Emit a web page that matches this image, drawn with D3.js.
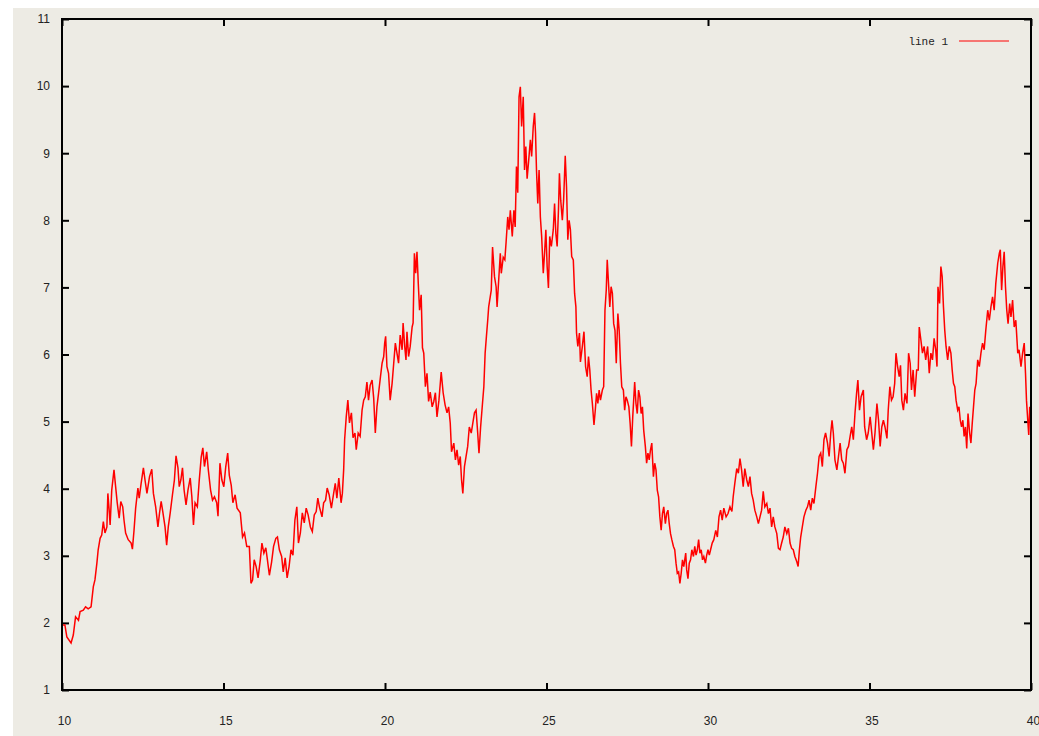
<!DOCTYPE html>
<html>
<head>
<meta charset="utf-8">
<script src="https://cdn.jsdelivr.net/npm/d3@7"></script>
<style>
  html, body { margin: 0; padding: 0; background: #ffffff; }
</style>
</head>
<body>
<script>
// Axis ticks (gnuplot style)
const X_TICKS = [10, 15, 20, 25, 30, 35, 40];
const Y_TICKS = [1, 2, 3, 4, 5, 6, 7, 8, 9, 10, 11];
const SERIES_NAME = "line 1";

// The random-walk trace: [x, y]
const walk10to15 = [[10.00,1.97],[10.09,1.97],[10.15,1.79],[10.28,1.70],[10.35,1.82],[10.42,2.09],[10.51,2.04],[10.56,2.17],[10.66,2.19],[10.73,2.24],[10.81,2.21],[10.90,2.24],[10.97,2.54],[11.02,2.64],[11.08,2.89],[11.12,3.09],[11.18,3.26],[11.23,3.31],[11.28,3.51],[11.33,3.34],[11.39,3.43],[11.42,3.93],[11.46,3.68],[11.49,3.46],[11.54,3.98],[11.61,4.28],[11.66,4.03],[11.71,3.79],[11.77,3.56],[11.82,3.81],[11.88,3.73],[11.92,3.53],[11.97,3.34],[12.05,3.24],[12.14,3.19],[12.18,3.10],[12.23,3.38],[12.28,3.71],[12.35,4.01],[12.39,3.86],[12.45,4.08],[12.52,4.31],[12.57,4.13],[12.63,3.93],[12.71,4.18],[12.78,4.29],[12.83,3.93],[12.90,3.73],[12.97,3.43],[13.02,3.64],[13.07,3.81],[13.12,3.66],[13.19,3.43],[13.24,3.16],[13.29,3.43],[13.35,3.64],[13.42,3.91],[13.48,4.13],[13.53,4.49],[13.59,4.31],[13.63,4.03],[13.68,4.13],[13.73,4.31],[13.78,3.98],[13.84,3.76],[13.90,3.98],[13.97,4.16],[14.02,3.88],[14.07,3.46],[14.12,3.79],[14.19,3.73],[14.25,4.13],[14.31,4.47],[14.36,4.61],[14.41,4.33],[14.48,4.55],[14.53,4.28],[14.60,3.98],[14.66,3.83],[14.72,3.88],[14.79,3.79],[14.83,3.59],[14.89,4.38],[14.95,4.13]];

const walk15to20 = [[15.01,4.03],[15.07,4.33],[15.13,4.53],[15.18,4.20],[15.24,4.05],[15.29,3.79],[15.36,3.91],[15.42,3.71],[15.52,3.64],[15.59,3.28],[15.65,3.34],[15.72,3.14],[15.80,3.14],[15.85,2.59],[15.90,2.64],[15.95,2.94],[16.01,2.84],[16.07,2.67],[16.14,2.94],[16.19,3.19],[16.25,3.04],[16.31,3.12],[16.36,2.94],[16.42,2.71],[16.49,2.91],[16.55,3.14],[16.62,3.26],[16.67,3.28],[16.73,3.09],[16.80,2.99],[16.85,2.76],[16.91,2.97],[16.97,2.67],[17.03,2.84],[17.09,3.09],[17.15,3.01],[17.21,3.53],[17.27,3.73],[17.32,3.19],[17.38,3.34],[17.44,3.64],[17.50,3.49],[17.56,3.71],[17.62,3.61],[17.69,3.43],[17.75,3.36],[17.81,3.61],[17.87,3.66],[17.92,3.86],[17.97,3.73],[18.05,3.58],[18.10,3.79],[18.16,3.83],[18.21,4.01],[18.27,3.91],[18.34,3.71],[18.41,3.93],[18.46,4.08],[18.51,3.86],[18.57,4.16],[18.64,3.79],[18.68,3.93],[18.72,4.28],[18.75,4.73],[18.80,5.07],[18.85,5.32],[18.90,4.98],[18.96,5.13],[19.01,4.76],[19.07,4.83],[19.11,4.58],[19.17,4.83],[19.23,4.78],[19.29,5.17],[19.34,5.32],[19.39,5.37],[19.44,5.59],[19.49,5.32],[19.54,5.54],[19.60,5.62],[19.65,5.35],[19.70,4.83],[19.75,5.22],[19.80,5.42],[19.86,5.67],[19.91,5.87],[19.96,5.97],[19.99,6.17]];

const walk20to25 = [[20.02,6.27],[20.06,5.82],[20.11,5.72],[20.16,5.32],[20.22,5.57],[20.27,5.87],[20.32,6.17],[20.37,6.02],[20.42,5.87],[20.47,6.29],[20.53,6.07],[20.56,6.47],[20.61,6.12],[20.65,5.92],[20.68,6.34],[20.73,5.97],[20.78,6.12],[20.84,6.41],[20.87,6.47],[20.91,7.51],[20.95,7.21],[20.99,7.53],[21.03,7.06],[21.07,6.66],[21.12,6.89],[21.16,6.10],[21.20,6.02],[21.25,5.52],[21.30,5.72],[21.35,5.30],[21.40,5.44],[21.46,5.22],[21.51,5.30],[21.56,5.43],[21.61,5.07],[21.67,5.32],[21.74,5.74],[21.80,5.43],[21.86,5.25],[21.92,5.13],[21.97,5.22],[22.02,4.98],[22.06,4.55],[22.13,4.68],[22.18,4.43],[22.23,4.58],[22.28,4.35],[22.33,4.48],[22.37,4.13],[22.41,3.93],[22.46,4.33],[22.51,4.48],[22.56,4.63],[22.61,4.92],[22.67,4.83],[22.72,4.98],[22.77,5.13],[22.82,5.17],[22.87,4.83],[22.91,4.53],[22.96,4.92],[23.02,5.28],[23.06,5.52],[23.10,6.02],[23.14,6.27],[23.18,6.51],[23.21,6.71],[23.29,6.96],[23.33,7.60],[23.39,7.16],[23.44,7.01],[23.47,6.71],[23.52,7.11],[23.57,7.51],[23.60,7.21],[23.66,7.45],[23.71,7.41],[23.75,7.68],[23.80,8.05],[23.84,7.86],[23.88,8.15],[23.94,7.76],[23.99,8.15],[24.03,7.90],[24.07,8.80],[24.11,8.41],[24.15,9.84],[24.19,9.99],[24.23,9.40],[24.28,9.84],[24.32,8.75],[24.36,9.10],[24.40,8.62],[24.45,8.90],[24.50,9.20],[24.54,8.95],[24.59,9.40],[24.63,9.60],[24.66,9.30],[24.69,8.75],[24.73,8.25],[24.77,8.75],[24.81,8.05],[24.85,7.76],[24.90,7.21],[24.94,7.51],[24.98,7.86]];

const walk25to30 = [[25.02,7.31],[25.06,6.99],[25.10,7.76],[25.15,7.61],[25.21,7.86],[25.25,8.25],[25.29,7.80],[25.33,7.61],[25.37,8.15],[25.40,8.70],[25.44,8.30],[25.49,8.00],[25.53,8.30],[25.58,8.96],[25.62,8.50],[25.66,7.71],[25.70,8.00],[25.74,7.86],[25.78,7.46],[25.83,7.41],[25.87,6.91],[25.91,6.71],[25.93,6.32],[25.97,6.12],[26.02,6.32],[26.05,5.89],[26.11,6.12],[26.16,6.34],[26.21,5.82],[26.26,5.67],[26.30,5.97],[26.34,5.77],[26.38,5.47],[26.42,5.27],[26.47,4.95],[26.51,5.17],[26.55,5.42],[26.59,5.27],[26.63,5.47],[26.67,5.32],[26.73,5.47],[26.77,5.52],[26.81,6.66],[26.85,6.96],[26.88,7.41],[26.92,7.06],[26.96,6.71],[27.00,7.01],[27.04,6.91],[27.08,6.46],[27.12,6.36],[27.16,5.87],[27.21,6.61],[27.25,6.36],[27.29,5.87],[27.33,5.52],[27.38,5.47],[27.42,5.17],[27.46,5.37],[27.50,5.32],[27.55,5.22],[27.59,4.97],[27.63,4.63],[27.67,5.07],[27.73,5.59],[27.77,5.27],[27.81,5.12],[27.85,5.47],[27.89,5.37],[27.93,5.12],[27.97,5.22],[28.01,4.87],[28.06,4.63],[28.10,4.38],[28.14,4.53],[28.18,4.43],[28.22,4.58],[28.26,4.68],[28.31,4.18],[28.35,4.38],[28.39,4.28],[28.43,3.98],[28.47,3.88],[28.51,3.58],[28.55,3.38],[28.59,3.63],[28.63,3.73],[28.68,3.48],[28.72,3.63],[28.76,3.68],[28.80,3.48],[28.84,3.33],[28.88,3.24],[28.93,3.14],[28.97,3.09],[29.01,2.89],[29.05,2.74],[29.09,2.76],[29.13,2.59],[29.17,2.74],[29.21,2.94],[29.25,2.84],[29.31,3.04],[29.34,2.79],[29.38,2.66],[29.42,2.89],[29.46,2.94],[29.50,3.09],[29.55,2.99],[29.59,3.14],[29.63,3.01],[29.67,3.09],[29.71,3.24],[29.75,3.04],[29.79,3.09],[29.83,2.94],[29.87,2.99],[29.92,2.89],[29.96,3.01]];

const walk30to35 = [[30.00,3.09],[30.04,3.01],[30.08,3.09],[30.13,3.19],[30.18,3.24],[30.24,3.38],[30.29,3.28],[30.34,3.58],[30.39,3.68],[30.44,3.53],[30.49,3.71],[30.56,3.58],[30.62,3.63],[30.68,3.73],[30.74,3.66],[30.78,3.88],[30.83,4.08],[30.89,4.30],[30.94,4.23],[30.99,4.45],[31.04,4.28],[31.09,4.03],[31.14,4.30],[31.20,4.13],[31.25,4.03],[31.30,4.18],[31.35,3.93],[31.40,3.83],[31.45,3.68],[31.51,3.58],[31.56,3.48],[31.61,3.58],[31.66,3.68],[31.71,3.96],[31.76,3.73],[31.82,3.78],[31.87,3.63],[31.92,3.71],[31.97,3.43],[32.02,3.58],[32.07,3.43],[32.13,3.33],[32.18,3.11],[32.23,3.09],[32.28,3.19],[32.33,3.28],[32.38,3.43],[32.44,3.33],[32.49,3.41],[32.54,3.19],[32.59,3.11],[32.64,3.09],[32.69,2.99],[32.75,2.91],[32.79,2.84],[32.83,3.09],[32.87,3.28],[32.92,3.43],[32.97,3.58],[33.03,3.68],[33.08,3.73],[33.13,3.83],[33.18,3.68],[33.23,3.86],[33.28,3.78],[33.34,4.03],[33.39,4.23],[33.44,4.48],[33.49,4.53],[33.54,4.33],[33.59,4.73],[33.64,4.83],[33.70,4.68],[33.75,4.48],[33.80,4.83],[33.84,5.02],[33.88,4.83],[33.93,4.43],[33.99,4.28],[34.04,4.48],[34.09,4.68],[34.14,4.43],[34.19,4.38],[34.24,4.23],[34.30,4.58],[34.35,4.63],[34.40,4.78],[34.45,4.92],[34.50,4.73],[34.55,5.12],[34.60,5.42],[34.64,5.62],[34.69,5.17],[34.74,5.37],[34.81,5.47],[34.85,4.92],[34.91,4.73],[34.96,4.83]];

const walk35to40 = [[35.02,5.07],[35.07,4.83],[35.12,4.58],[35.17,4.83],[35.23,5.27],[35.28,5.02],[35.33,4.63],[35.38,4.92],[35.43,5.02],[35.48,4.92],[35.54,4.75],[35.58,5.17],[35.63,5.52],[35.68,5.32],[35.73,5.37],[35.78,5.57],[35.82,6.02],[35.87,5.82],[35.92,5.67],[35.96,5.84],[36.00,5.32],[36.05,5.17],[36.10,5.42],[36.16,5.27],[36.21,6.02],[36.26,5.87],[36.30,5.47],[36.35,5.77],[36.40,5.37],[36.46,5.77],[36.51,5.77],[36.54,6.41],[36.59,6.22],[36.64,6.02],[36.69,6.12],[36.74,5.92],[36.80,6.12],[36.85,5.72],[36.90,6.02],[36.95,5.92],[37.00,6.24],[37.05,6.07],[37.09,5.82],[37.12,7.01],[37.17,6.76],[37.21,7.31],[37.25,7.16],[37.29,6.71],[37.33,6.36],[37.37,6.12],[37.42,5.92],[37.47,6.12],[37.52,6.02],[37.56,5.77],[37.60,5.57],[37.64,5.52],[37.68,5.32],[37.73,5.17],[37.77,5.22],[37.81,5.02],[37.85,4.92],[37.89,5.02],[37.93,4.78],[37.97,4.92],[38.01,4.60],[38.05,5.12],[38.10,4.83],[38.14,4.68],[38.18,4.97],[38.22,5.22],[38.26,5.47],[38.30,5.57],[38.35,5.92],[38.40,5.82],[38.45,6.02],[38.50,6.17],[38.55,6.07],[38.60,6.36],[38.66,6.66],[38.71,6.51],[38.76,6.71],[38.81,6.86],[38.86,6.66],[38.91,7.06],[38.97,7.36],[39.02,7.51],[39.05,7.56],[39.09,6.96],[39.13,7.31],[39.17,7.53],[39.21,7.01],[39.25,6.66],[39.29,6.46],[39.34,6.76],[39.38,6.56],[39.43,6.81],[39.48,6.41],[39.53,6.51],[39.59,6.02],[39.63,6.07],[39.69,5.82],[39.74,6.02],[39.79,6.17],[39.83,5.72],[39.86,5.32],[39.90,5.02],[39.93,4.80],[39.96,5.22],[40.00,5.02]];

const series = [].concat(walk10to15, walk15to20, walk20to25, walk25to30, walk30to35, walk35to40);

const width = 1039;
const height = 736;
const margin = { top: 19, right: 8, bottom: 46, left: 62 };
const BG = "#edebe4";
const TICK_FONT = "'Liberation Sans', Arial, sans-serif";

const x = d3.scaleLinear().domain([10, 40]).range([margin.left, width - margin.right]);
const y = d3.scaleLinear().domain([1, 11]).range([height - margin.bottom, margin.top]);

const svg = d3.select("body")
  .append("svg")
  .attr("width", width)
  .attr("height", height)
  .style("display", "block");

// gnuplot-ish canvas: white edge, beige plot background
svg.append("rect").attr("width", width).attr("height", height).attr("fill", "#ffffff");
svg.append("rect").attr("x", 13).attr("y", 8).attr("width", width - 13).attr("height", height - 8).attr("fill", BG);

const styleAxis = (g) => {
  g.select(".domain").remove();
  g.selectAll(".tick line").attr("stroke", "#000").attr("stroke-width", 2);
  g.selectAll(".tick text")
    .attr("fill", "#222")
    .style("font-family", TICK_FONT)
    .style("font-size", "12px");
};

// bottom + left with labels, ticks pointing inward
svg.append("g")
  .attr("transform", `translate(0,${height - margin.bottom})`)
  .call(d3.axisBottom(x).tickValues(X_TICKS).tickSize(-7).tickPadding(26).tickFormat(d3.format("d")))
  .call(styleAxis)
  .call((g) => g.selectAll(".tick text").attr("dx", 2));

svg.append("g")
  .attr("transform", `translate(${margin.left},0)`)
  .call(d3.axisLeft(y).tickValues(Y_TICKS).tickSize(-7).tickPadding(12).tickFormat(d3.format("d")))
  .call(styleAxis);

// mirrored ticks on top + right, no labels
svg.append("g")
  .attr("transform", `translate(0,${margin.top})`)
  .call(d3.axisTop(x).tickValues(X_TICKS).tickSize(-7).tickFormat(""))
  .call(styleAxis);

svg.append("g")
  .attr("transform", `translate(${width - margin.right},0)`)
  .call(d3.axisRight(y).tickValues(Y_TICKS).tickSize(-7).tickFormat(""))
  .call(styleAxis);

// the trace
const line = d3.line().x((d) => x(d[0])).y((d) => y(d[1]));

svg.append("path")
  .datum(series)
  .attr("fill", "none")
  .attr("stroke", "#ff0000")
  .attr("stroke-width", 1.5)
  .attr("stroke-linejoin", "miter")
  .attr("d", line);

// frame
svg.append("rect")
  .attr("x", margin.left)
  .attr("y", margin.top)
  .attr("width", width - margin.right - margin.left)
  .attr("height", height - margin.bottom - margin.top)
  .attr("fill", "none")
  .attr("stroke", "#000")
  .attr("stroke-width", 2);

// key, top right
const key = svg.append("g");
key.append("text")
  .attr("x", 948)
  .attr("y", 41)
  .attr("dy", "0.35em")
  .attr("text-anchor", "end")
  .attr("fill", "#222")
  .style("font-family", "'Liberation Mono', 'DejaVu Sans Mono', monospace")
  .style("font-size", "11px")
  .text(SERIES_NAME);
key.append("line")
  .attr("x1", 959).attr("x2", 1009)
  .attr("y1", 41).attr("y2", 41)
  .attr("stroke", "#ff0000")
  .attr("stroke-width", 1);
</script>
</body>
</html>
